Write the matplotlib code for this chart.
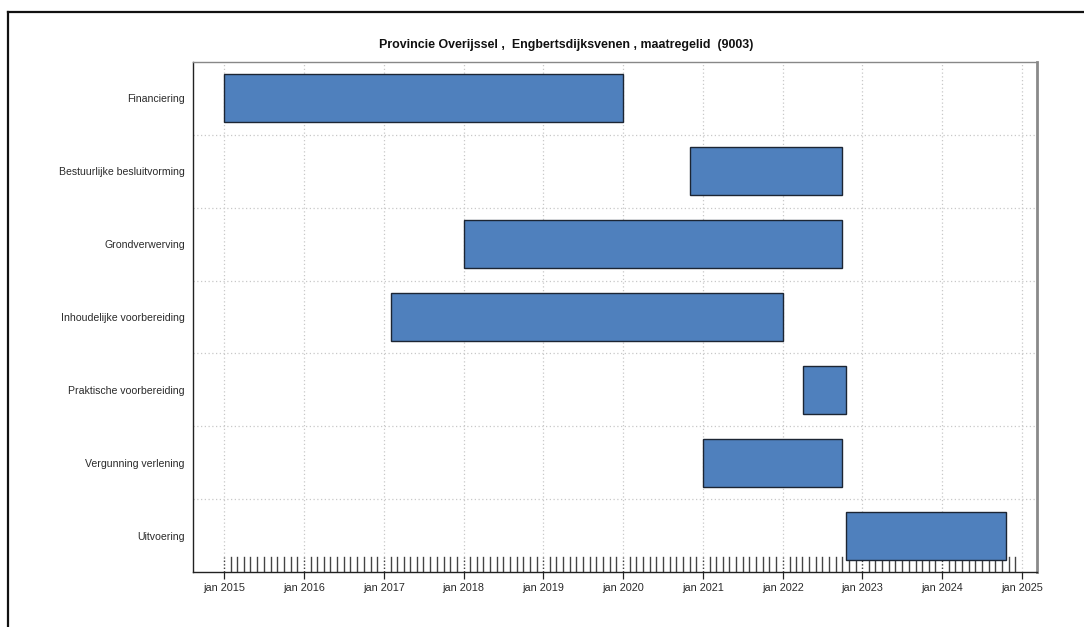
import matplotlib
matplotlib.use("Agg")
import matplotlib.pyplot as plt
import matplotlib.dates as mdates
from matplotlib.lines import Line2D
import pandas as pd

plt.rcParams['font.family'] = ['Liberation Sans', 'DejaVu Sans']

title = "Provincie Overijssel ,  Engbertsdijksvenen , maatregelid  (9003)"
tasks = ["Financiering", "Bestuurlijke besluitvorming", "Grondverwerving",
         "Inhoudelijke voorbereiding", "Praktische voorbereiding",
         "Vergunning verlening", "Uitvoering"]
starts = ["2015-01-01", "2020-11-01", "2018-01-01", "2017-02-01",
          "2022-04-03", "2021-01-01", "2022-10-16"]
ends = ["2020-01-01", "2022-10-01", "2022-10-01", "2022-01-01",
        "2022-10-16", "2022-10-01", "2024-10-18"]
year_ticks = [str(y) + "-01-01" for y in range(2015, 2026)]
rug_start, rug_end = "2015-01-01", "2024-12-01"
xlim = ("2014-08-11", "2025-03-10")

W, H = 1084, 627
fig = plt.figure(figsize=(W / 100, H / 100), dpi=100)
ax = fig.add_axes([193 / W, 1 - 572 / H, (1037 - 193) / W, (572 - 62) / H])

s = mdates.datestr2num(starts)
e = mdates.datestr2num(ends)
n = len(tasks)
ypos = list(range(n))
ax.barh(ypos, e - s, left=s, height=0.66, color="#4f80bd",
        edgecolor="#1c2533", linewidth=1.0, zorder=3)

ax.set_ylim(n - 0.5, -0.5)
ax.set_xlim(mdates.datestr2num(xlim[0]), mdates.datestr2num(xlim[1]))
ax.set_yticks(ypos)
ax.set_yticklabels(tasks, fontsize=7.6, color="#2a2a2a")
ax.tick_params(axis="y", length=0, pad=6)

yt = mdates.datestr2num(year_ticks)
ax.set_xticks(yt)
ax.set_xticklabels(["jan " + t[:4] for t in year_ticks], fontsize=7.8, color="#2a2a2a")
ax.tick_params(axis="x", length=5, width=0.9, color="#222222", pad=3)

# grid
for x in yt:
    ax.axvline(x, color="#c8c8c8", linestyle=(0, (1, 2)), linewidth=0.9, zorder=1)
for b in range(1, n):
    ax.axhline(b - 0.5, color="#c8c8c8", linestyle=(0, (1, 2)), linewidth=0.9, zorder=1)

# rug of months
months = pd.date_range(rug_start, rug_end, freq="MS")
trans = ax.get_xaxis_transform()
rug_h = 15 / (572 - 62)
for m in months:
    xm = mdates.date2num(m.to_pydatetime())
    if m.month == 1:
        ax.plot([xm, xm], [0, rug_h], transform=trans, color="#444444",
                linestyle=(0, (1, 1.5)), linewidth=1.0, zorder=2)
    else:
        ax.plot([xm, xm], [0, rug_h], transform=trans, color="#444444",
                linewidth=1.0, zorder=2)

for side in ["left", "bottom"]:
    ax.spines[side].set_color("#222222")
    ax.spines[side].set_linewidth(1.0)
ax.spines["top"].set_color("#888888")
ax.spines["top"].set_linewidth(1.0)
ax.spines["right"].set_color("#8a8a8a")
ax.spines["right"].set_linewidth(2.0)

fig.text(566 / W, 1 - 45 / H, title, ha="center", va="center",
         fontsize=8.9, fontweight="bold", color="#111111")

# outer frame (top and left)
fig.add_artist(Line2D([8 / W, 1.0], [1 - 12 / H, 1 - 12 / H], transform=fig.transFigure,
                      color="#111111", linewidth=1.6))
fig.add_artist(Line2D([8 / W, 8 / W], [0.0, 1 - 12 / H], transform=fig.transFigure,
                      color="#111111", linewidth=1.6))

fig.savefig("out.png", dpi=100, facecolor="white")
